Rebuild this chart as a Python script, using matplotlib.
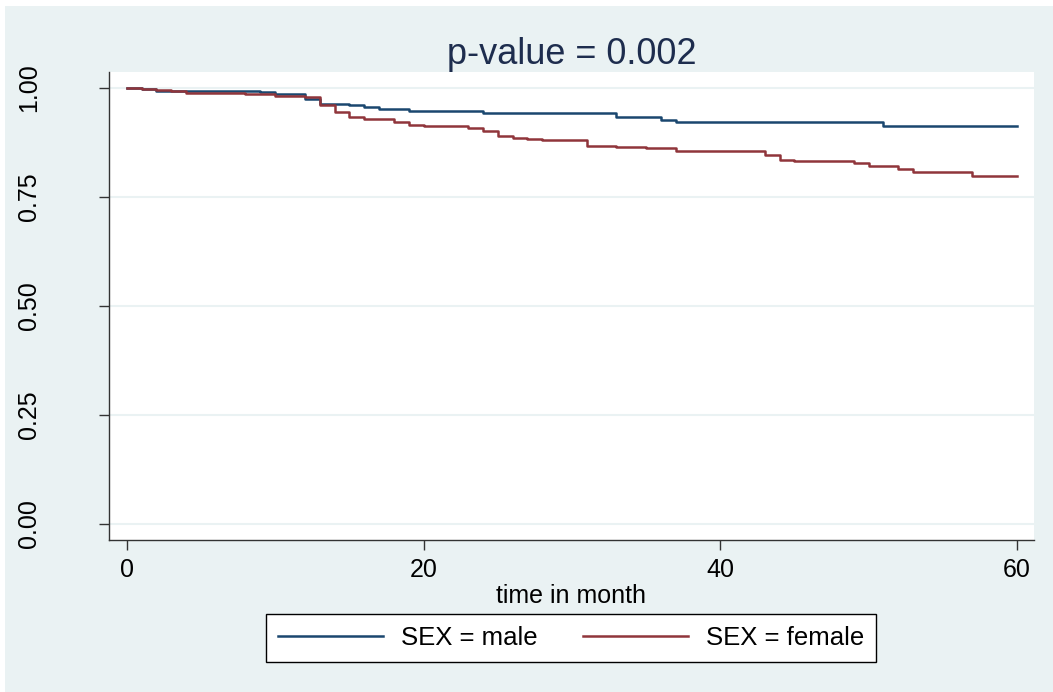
import matplotlib
matplotlib.use("Agg")
import matplotlib.pyplot as plt
from matplotlib.patches import Rectangle

plt.rcParams['font.family'] = ['Liberation Sans', 'DejaVu Sans']

# Kaplan-Meier step estimates
male_t = [0, 1, 2, 3, 9, 10, 12, 13, 15, 16, 17, 19, 24, 33, 36, 37, 51, 60]
male_s = [1.000, 0.997, 0.994, 0.993, 0.990, 0.986, 0.974, 0.964, 0.960, 0.956,
          0.952, 0.947, 0.943, 0.933, 0.927, 0.921, 0.912, 0.912]

female_t = [0, 1, 2, 3, 4, 8, 10, 12, 13, 14, 15, 16, 17, 18, 19, 20, 23, 24, 25,
            26, 27, 28, 31, 33, 35, 37, 43, 44, 45, 49, 50, 52, 53, 57, 60]
female_s = [1.000, 0.998, 0.995, 0.992, 0.989, 0.9855, 0.982, 0.979, 0.961, 0.944,
            0.933, 0.930, 0.928, 0.921, 0.916, 0.913, 0.9075, 0.902, 0.891, 0.886,
            0.884, 0.881, 0.868, 0.865, 0.862, 0.8555, 0.846, 0.835, 0.8326, 0.827,
            0.821, 0.814, 0.807, 0.798, 0.798]

yticks = [0, 0.25, 0.5, 0.75, 1.0]
ylabels = ['0.00', '0.25', '0.50', '0.75', '1.00']
xticks = [0, 20, 40, 60]

W, H = 1053, 692
bg = '#EAF2F3'
fig = plt.figure(figsize=(W / 100, H / 100), dpi=100, facecolor='white')
# stata graph region (thin white strip left and top)
fig.patches.append(Rectangle((5 / W, 0), 1, 1 - 6 / H, transform=fig.transFigure,
                             facecolor=bg, edgecolor='none', zorder=-10))

ax = fig.add_axes([109 / W, 1 - 540 / H, (1034 - 109) / W, (540 - 72) / H])
ax.set_facecolor('white')

ax.step(male_t, male_s, where='post', color='#1A476F', lw=1.8, label='SEX = male')
ax.step(female_t, female_s, where='post', color='#90353B', lw=1.8, label='SEX = female')

ax.set_xlim(-1.2, 61.15)
ax.set_ylim(-0.0367, 1.0367)
ax.set_yticks(yticks)
ax.set_yticklabels(ylabels, rotation=90, va='center')
ax.set_xticks(xticks)
for y in yticks:
    ax.axhline(y, color=bg, lw=1.5, zorder=0)

for s in ['top', 'right']:
    ax.spines[s].set_visible(False)
for s in ['left', 'bottom']:
    ax.spines[s].set_color('#333333')
    ax.spines[s].set_linewidth(1.0)
ax.tick_params(axis='both', direction='out', length=7.2, width=1.0, color='#333333',
               labelsize=18, labelcolor='black')
ax.tick_params(axis='y', pad=42)
ax.tick_params(axis='x', pad=6)

ax.set_xlabel('time in month', fontsize=18, labelpad=1)
ax.set_title('p-value = 0.002', fontsize=26, color='#1E2D4E', pad=5)

leg = fig.legend(loc='center', bbox_to_anchor=(571 / W, 1 - 638 / H), ncol=2,
                 fontsize=18.5, frameon=True, fancybox=False, edgecolor='black',
                 facecolor='white', framealpha=1,
                 handlelength=4.1, handletextpad=0.7, columnspacing=1.75,
                 borderpad=0.45, borderaxespad=0)
leg.get_frame().set_linewidth(1.0)

fig.savefig('out.png', dpi=100, facecolor=fig.get_facecolor())
